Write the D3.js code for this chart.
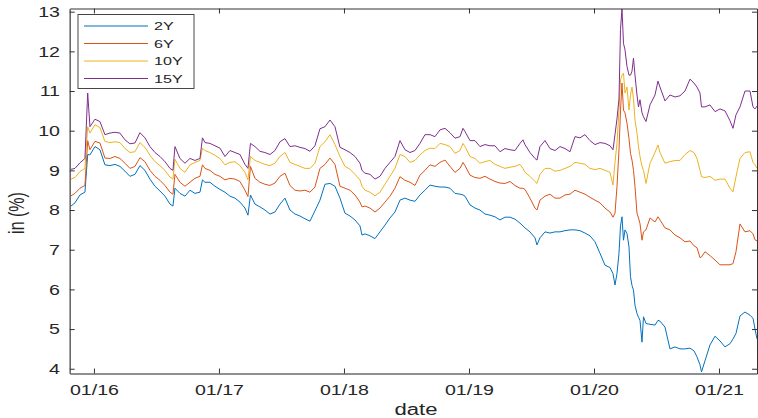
<!DOCTYPE html>
<html><head><meta charset="utf-8">
<script src="https://cdn.jsdelivr.net/npm/d3@7"></script>
<style>
body{margin:0;background:#fff}
svg{display:block}
text{font-family:"Liberation Sans",Arial,Helvetica,sans-serif;fill:#262626}
</style>
</head><body>
<svg id="chart" width="758" height="418"></svg>
<script>
// decimal-year dates
const dates = [2015.808,2015.848,2015.888,2015.928,2015.950,2015.968,2016.008,2016.048,2016.088,2016.128,
2016.168,2016.208,2016.248,2016.288,2016.328,2016.368,2016.408,2016.448,2016.488,2016.528,
2016.568,2016.608,2016.632,2016.648,2016.688,2016.728,2016.768,2016.808,2016.848,2016.868,
2016.888,2016.928,2016.968,2017.008,2017.048,2017.088,2017.128,2017.168,2017.208,2017.232,
2017.252,2017.288,2017.328,2017.368,2017.408,2017.448,2017.488,2017.528,2017.568,2017.608,
2017.648,2017.688,2017.728,2017.768,2017.808,2017.848,2017.888,2017.928,2017.968,2018.008,
2018.048,2018.088,2018.128,2018.144,2018.168,2018.208,2018.248,2018.288,2018.328,2018.368,
2018.408,2018.448,2018.488,2018.528,2018.568,2018.608,2018.648,2018.688,2018.728,2018.768,
2018.808,2018.848,2018.888,2018.928,2018.952,2018.968,2019.008,2019.048,2019.088,2019.128,
2019.168,2019.208,2019.248,2019.288,2019.328,2019.368,2019.408,2019.432,2019.448,2019.488,
2019.528,2019.544,2019.568,2019.608,2019.648,2019.688,2019.728,2019.768,2019.808,2019.848,
2019.888,2019.928,2019.968,2020.008,2020.048,2020.088,2020.128,2020.152,2020.168,2020.184,
2020.200,2020.212,2020.224,2020.236,2020.248,2020.264,2020.280,2020.292,2020.304,2020.316,
2020.328,2020.344,2020.356,2020.368,2020.384,2020.396,2020.416,2020.448,2020.488,2020.512,
2020.528,2020.568,2020.608,2020.648,2020.688,2020.728,2020.768,2020.800,2020.824,2020.848,
2020.860,2020.888,2020.928,2020.968,2021.008,2021.048,2021.088,2021.112,2021.136,2021.168,
2021.208,2021.248,2021.272,2021.288,2021.304];

const y2Y = [8.08,8.18,8.38,8.45,9.40,9.39,9.60,9.52,9.14,9.12,
9.15,9.10,8.98,8.85,8.90,9.12,9.00,8.78,8.60,8.48,
8.35,8.15,8.10,8.55,8.42,8.35,8.50,8.42,8.45,8.76,
8.70,8.70,8.60,8.52,8.45,8.35,8.30,8.20,8.05,7.87,
8.38,8.15,8.08,8.00,7.90,7.95,8.15,8.30,8.00,7.90,
7.85,7.78,7.72,7.98,8.25,8.65,8.67,8.60,8.30,7.92,
7.85,7.75,7.60,7.37,7.40,7.35,7.28,7.45,7.62,7.80,
7.95,8.25,8.30,8.25,8.22,8.38,8.50,8.63,8.60,8.58,
8.58,8.55,8.42,8.40,8.38,8.35,8.13,8.05,8.00,7.90,
7.87,7.83,7.75,7.82,7.82,7.77,7.67,7.60,7.55,7.45,
7.30,7.12,7.30,7.45,7.42,7.45,7.45,7.48,7.50,7.50,
7.48,7.42,7.35,7.20,6.91,6.61,6.55,6.40,6.11,6.40,
6.91,7.60,7.83,7.24,7.50,7.41,7.07,6.32,6.10,5.98,
5.60,5.39,5.30,5.22,4.67,5.31,5.14,5.12,5.10,5.22,
5.20,5.05,4.50,4.55,4.50,4.50,4.52,4.45,4.30,4.10,
3.92,4.20,4.60,4.82,4.70,4.55,4.63,4.75,4.89,5.33,
5.43,5.35,5.27,5.00,4.75];

const y6Y = [8.34,8.42,8.55,8.62,9.75,9.52,9.73,9.69,9.31,9.30,
9.35,9.30,9.18,9.05,9.10,9.32,9.22,9.00,8.85,8.75,
8.62,8.45,8.40,8.90,8.70,8.60,8.70,8.80,8.85,9.14,
9.05,9.00,8.90,8.85,8.76,8.80,8.78,8.72,8.50,8.34,
9.10,8.80,8.70,8.65,8.62,8.68,8.85,8.93,8.62,8.50,
8.48,8.50,8.45,8.58,9.05,9.15,9.31,9.15,8.60,8.55,
8.50,8.38,8.20,8.08,8.10,8.05,7.95,8.05,8.20,8.35,
8.55,8.84,8.75,8.70,8.62,8.88,9.00,9.14,9.10,9.20,
9.26,9.10,8.95,9.05,9.20,9.12,8.88,8.82,8.80,8.85,
8.78,8.72,8.68,8.67,8.72,8.62,8.55,8.55,8.52,8.30,
8.05,8.00,8.25,8.35,8.40,8.30,8.30,8.38,8.40,8.50,
8.45,8.40,8.32,8.25,8.18,8.05,7.95,7.82,7.92,8.59,
9.52,10.50,11.20,10.52,10.45,10.19,9.80,9.43,9.26,9.00,
8.59,7.92,7.80,7.66,7.24,7.45,7.50,7.80,7.70,7.83,
7.75,7.55,7.50,7.37,7.30,7.20,7.22,7.10,7.05,6.80,
6.82,6.95,6.85,6.74,6.62,6.62,6.62,6.65,6.95,7.65,
7.45,7.48,7.40,7.25,7.22];

const y10Y = [8.77,8.82,8.97,9.05,10.10,9.94,10.15,10.08,9.73,9.70,
9.72,9.70,9.55,9.45,9.47,9.70,9.58,9.38,9.22,9.12,
9.00,8.83,8.78,9.28,9.05,8.95,9.14,9.20,9.25,9.56,
9.50,9.45,9.38,9.30,9.14,9.20,9.22,9.12,8.95,8.76,
9.35,9.25,9.20,9.15,9.12,9.18,9.35,9.45,9.20,9.15,
9.10,9.05,9.05,9.18,9.60,9.72,9.90,9.65,9.35,9.10,
9.03,8.90,8.76,8.60,8.50,8.45,8.36,8.45,8.65,8.85,
9.05,9.40,9.35,9.20,9.25,9.39,9.50,9.56,9.55,9.68,
9.65,9.60,9.43,9.50,9.68,9.60,9.35,9.30,9.18,9.22,
9.25,9.15,9.10,9.05,9.08,9.10,9.15,9.05,8.95,8.85,
8.72,8.67,8.90,9.05,9.05,8.98,9.00,9.05,9.10,9.20,
9.18,9.15,9.05,9.02,9.05,9.00,8.95,8.63,9.20,9.68,
10.52,11.28,11.40,11.45,10.95,11.10,10.52,10.90,11.10,10.80,
10.27,9.94,9.60,9.35,9.10,9.00,8.67,9.18,9.45,9.64,
9.45,9.18,9.22,9.25,9.25,9.40,9.50,9.45,9.30,9.00,
8.84,8.82,8.85,8.75,8.78,8.78,8.55,8.46,8.84,9.30,
9.45,9.47,9.20,9.14,9.05];

const y15Y = [9.02,9.05,9.19,9.30,10.95,10.10,10.29,10.23,9.90,9.94,
9.96,9.94,9.77,9.67,9.69,9.95,9.82,9.60,9.45,9.35,
9.22,9.05,9.00,9.60,9.30,9.18,9.30,9.25,9.30,9.82,
9.70,9.68,9.62,9.56,9.35,9.50,9.45,9.40,9.15,9.05,
9.68,9.60,9.48,9.45,9.40,9.50,9.72,9.80,9.60,9.62,
9.58,9.55,9.48,9.62,10.05,10.10,10.27,10.10,9.58,9.52,
9.45,9.35,9.18,9.00,8.93,8.90,8.78,8.85,9.05,9.20,
9.35,9.75,9.52,9.45,9.50,9.68,9.90,9.90,9.85,10.02,
10.06,9.95,9.81,9.85,10.06,9.98,9.75,9.75,9.60,9.65,
9.62,9.62,9.47,9.55,9.52,9.50,9.68,9.77,9.65,9.45,
9.30,9.26,9.60,9.75,9.55,9.50,9.60,9.55,9.47,9.85,
9.82,9.90,9.75,9.65,9.70,9.68,9.62,9.52,9.90,10.30,
10.80,12.55,13.07,12.20,12.04,11.62,11.40,11.40,11.50,11.83,
11.40,10.90,10.60,10.78,10.45,10.35,10.23,10.65,10.90,11.25,
11.10,10.75,10.90,10.85,10.88,11.00,11.30,11.20,11.10,10.95,
10.60,10.60,10.65,10.48,10.55,10.50,10.25,10.06,10.40,10.60,
11.00,11.00,10.60,10.55,10.62];

const seriesNames = ["2Y","6Y","10Y","15Y"];
const seriesColors = ["#0072BD","#D95319","#EDB120","#7E2F8E"];
const xTickValues = [2016,2017,2018,2019,2020,2021];
const xTickLabels = ["01/16","01/17","01/18","01/19","01/20","01/21"];
const yTickValues = [4,5,6,7,8,9,10,11,12,13];
const xAxisTitle = "date";
const yAxisTitle = "in (%)";

const svg = d3.select("#chart");
const L = 69.7, R = 757, T = 8.5, B = 373.5;
const SX = 1.4;

const x = d3.scaleLinear().domain([2015.806, 2021.304]).range([L, R]);
const y = d3.scaleLinear().domain([3.88, 13.08]).range([B, T]);

svg.append("defs").append("clipPath").attr("id","plotclip")
  .append("rect").attr("x",L).attr("y",T).attr("width",R-L).attr("height",B-T);

const allSeries = [y2Y, y6Y, y10Y, y15Y];
const line = d3.line().x(d=>x(d[0])).y(d=>y(d[1]));
const g = svg.append("g").attr("clip-path","url(#plotclip)");
allSeries.forEach((vals,i)=>{
  g.append("path")
    .datum(dates.map((t,k)=>[t, vals[k]]))
    .attr("d", line)
    .attr("fill","none")
    .attr("stroke", seriesColors[i])
    .attr("stroke-width",1)
    .attr("stroke-linejoin","round");
});

// axes
const fmtX = d => xTickLabels[xTickValues.indexOf(d)];
const axB = svg.append("g").attr("transform",`translate(0,${B})`)
  .call(d3.axisBottom(x).tickValues(xTickValues).tickFormat(fmtX).tickSizeInner(-5).tickSizeOuter(0));
const axT = svg.append("g").attr("transform",`translate(0,${T})`)
  .call(d3.axisTop(x).tickValues(xTickValues).tickFormat("").tickSizeInner(-5).tickSizeOuter(0));
const axL = svg.append("g").attr("transform",`translate(${L},0)`)
  .call(d3.axisLeft(y).tickValues(yTickValues).tickFormat(d3.format("d")).tickSizeInner(-5).tickSizeOuter(0));
const axR = svg.append("g").attr("transform",`translate(${R},0)`)
  .call(d3.axisRight(y).tickValues(yTickValues).tickFormat("").tickSizeInner(-5).tickSizeOuter(0));

[axB,axT,axL,axR].forEach(a=>{
  a.selectAll(".tick line").attr("stroke","#333").attr("stroke-width",1);
  a.select(".domain").attr("stroke","#333").attr("stroke-width",1);
});
axL.select(".domain").attr("stroke","#6a6a6a").attr("stroke-width",1.6);
axB.select(".domain").attr("stroke","#6a6a6a").attr("stroke-width",1.6);

axB.selectAll(".tick text")
  .attr("y",null).attr("dy",null)
  .attr("transform",`translate(0,21.5) scale(${SX},1)`)
  .attr("font-size",14).attr("fill","#262626")
  .attr("font-family","Liberation Sans, Arial, sans-serif");
axL.selectAll(".tick text")
  .attr("x",null).attr("dy","0.35em")
  .attr("transform",`translate(-9.7,0) scale(${SX},1)`)
  .attr("text-anchor","end")
  .attr("font-size",14).attr("fill","#262626")
  .attr("font-family","Liberation Sans, Arial, sans-serif");

// axis titles
svg.append("text")
  .attr("transform",`translate(416,415) scale(1.38,1)`)
  .attr("text-anchor","middle").attr("font-size",16)
  .text(xAxisTitle);
svg.append("text")
  .attr("transform",`translate(24,213) rotate(-90) scale(1,1.38)`)
  .attr("text-anchor","middle").attr("font-size",16)
  .text(yAxisTitle);

// legend
const lg = svg.append("g");
lg.append("rect").attr("x",78).attr("y",14.5).attr("width",116).attr("height",74)
  .attr("fill","#fff").attr("stroke","#333").attr("stroke-width",0.9);
const rowY = [26,43.5,61,78.5];
seriesNames.forEach((n,i)=>{
  lg.append("line").attr("x1",84).attr("x2",148).attr("y1",rowY[i]).attr("y2",rowY[i])
    .attr("stroke",seriesColors[i]).attr("stroke-width",1.2);
  lg.append("text").attr("transform",`translate(154,${rowY[i]}) scale(${SX},1)`)
    .attr("dy","0.36em").attr("font-size",11.5).text(n);
});
</script>
</body></html>
